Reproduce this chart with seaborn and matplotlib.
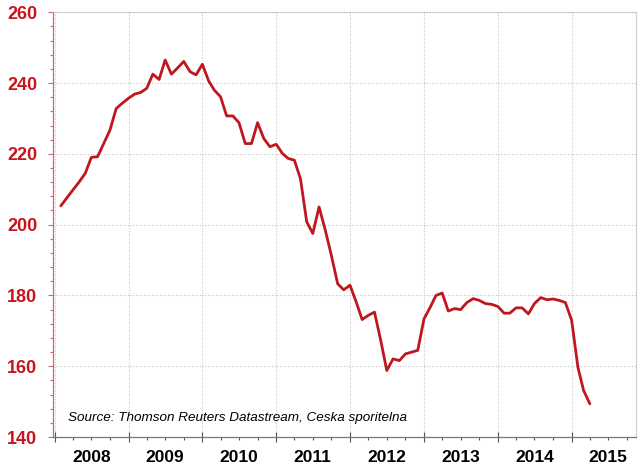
import pandas as pd
import seaborn as sns
import matplotlib.pyplot as plt
import matplotlib.dates as mdates
from matplotlib.ticker import MultipleLocator, FuncFormatter

# monthly index values, Feb 2008 - Apr 2015
start_month = "2008-02-01"
index_values = [
    205.3, 207.5, 209.8, 212.0, 214.5, 219.0, 219.2, 223.0, 226.7, 232.8, 234.3,  # 2008
    235.7, 236.9, 237.3, 238.5, 242.5, 241.0, 246.5, 242.5, 244.3, 246.1, 243.2, 242.3,  # 2009
    245.3, 240.6, 238.0, 236.1, 230.7, 230.7, 228.8, 222.9, 222.9, 228.8, 224.3, 222.0,  # 2010
    222.7, 220.1, 218.7, 218.2, 213.0, 200.8, 197.5, 205.0, 198.4, 191.3, 183.3, 181.6,  # 2011
    182.9, 178.1, 173.2, 174.4, 175.3, 167.3, 158.8, 162.1, 161.6, 163.5, 164.0, 164.5,  # 2012
    173.4, 176.7, 180.0, 180.7, 175.6, 176.3, 176.0, 178.0, 179.1, 178.6, 177.7, 177.5,  # 2013
    176.9, 175.0, 175.0, 176.5, 176.5, 174.8, 177.7, 179.4, 178.8, 179.0, 178.6, 178.0,  # 2014
    173.0, 159.7, 153.2, 149.4,  # 2015
]
y_ticks = [140, 160, 180, 200, 220, 240, 260]
source_note = "Source: Thomson Reuters Datastream, Ceska sporitelna"

dates = pd.date_range(start_month, periods=len(index_values), freq="MS")
df = pd.DataFrame({"date": dates, "value": index_values})

sns.set_style("white")
plt.rcParams["font.family"] = ["Liberation Sans", "DejaVu Sans"]

line_red = "#c0161e"
label_red = "#c8141e"
grid_grey = "#bdbdbd"

fig, ax = plt.subplots(figsize=(6.4, 4.69), dpi=100)
fig.subplots_adjust(left=0.083, right=0.994, top=0.974, bottom=0.068)

sns.lineplot(data=df, x="date", y="value", color=line_red, linewidth=2.0, ax=ax)

# axes limits
ax.set_xlim(pd.Timestamp("2007-12-25"), pd.Timestamp("2015-11-16"))
ax.set_ylim(y_ticks[0], y_ticks[-1])
ax.set_xlabel("")
ax.set_ylabel("")

# y axis: red bold labels, minor ticks every 4
ax.set_yticks(y_ticks)
ax.yaxis.set_minor_locator(MultipleLocator(4))
ax.tick_params(axis="y", which="both", direction="out", left=True, colors="#c86a74",
               labelcolor=label_red, labelsize=13, pad=8)
ax.tick_params(axis="y", which="major", length=3.5, width=0.8)
ax.tick_params(axis="y", which="minor", length=2.5, width=0.8)
for lbl in ax.get_yticklabels():
    lbl.set_fontweight("bold")

# x axis: year boundaries as major ticks, quarters as minor, year names at mid-year
ax.xaxis.set_major_locator(mdates.YearLocator())
ax.xaxis.set_major_formatter(FuncFormatter(lambda v, p: ""))
ax.xaxis.set_minor_locator(mdates.MonthLocator(bymonth=[4, 7, 10]))
ax.xaxis.set_minor_formatter(FuncFormatter(
    lambda v, p: str(mdates.num2date(v).year) if mdates.num2date(v).month == 7 else ""))
ax.tick_params(axis="x", which="major", direction="inout", length=7, width=0.8,
               colors="#555555", bottom=True)
ax.tick_params(axis="x", which="minor", direction="out", length=2.5, width=0.8,
               colors="#555555", labelcolor="black", labelsize=12.5, pad=7, bottom=True)
for lbl in ax.get_xticklabels(minor=True):
    lbl.set_fontweight("bold")

# grid
ax.grid(True, which="major", axis="both", color=grid_grey, linestyle=(0, (0.8, 1.6)), linewidth=0.8)

# spines
ax.spines["left"].set_color("#c86a74")
ax.spines["left"].set_linewidth(0.9)
ax.spines["bottom"].set_color("#777777")
ax.spines["bottom"].set_linewidth(0.9)
for side in ["top", "right"]:
    ax.spines[side].set_color(grid_grey)
    ax.spines[side].set_linestyle((0, (0.8, 1.6)))
    ax.spines[side].set_linewidth(0.8)

ax.text(0.026, 0.046, source_note, transform=ax.transAxes, fontsize=9.7,
        fontstyle="italic", color="black", va="center", ha="left")

plt.savefig("out.png", dpi=100)
